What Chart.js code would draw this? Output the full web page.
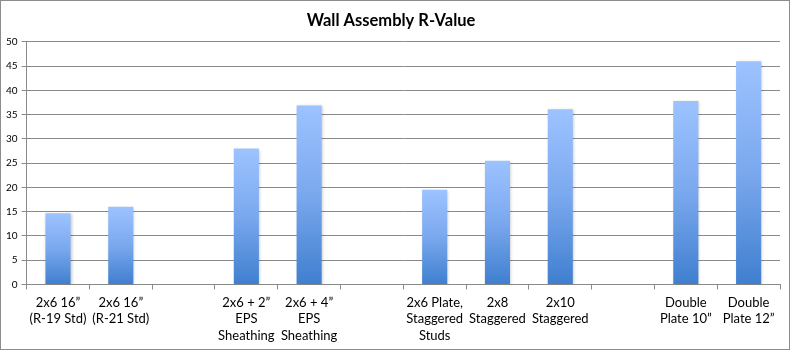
<!DOCTYPE html>
<html><head><meta charset="utf-8">
<script src="https://cdn.jsdelivr.net/npm/chart.js@4/dist/chart.umd.min.js"></script>
<style>
html,body{margin:0;padding:0;background:#fff;}
#wrap{width:790px;height:350px;box-sizing:border-box;border:1px solid #8c8c8c;position:relative;}
</style></head>
<body><div id="wrap"><canvas id="c"></canvas></div>
<script>
const categories = [
  ["2x6 16\u201D","(R-19 Std)"],
  ["2x6 16\u201D","(R-21 Std)"],
  "",
  ["2x6 + 2\u201D","EPS","Sheathing"],
  ["2x6 + 4\u201D","EPS","Sheathing"],
  "",
  ["2x6 Plate,","Staggered","Studs"],
  ["2x8","Staggered"],
  ["2x10","Staggered"],
  "",
  ["Double","Plate 10\u201D"],
  ["Double","Plate 12\u201D"]
];
const rValues = [14.7, 16.0, null, 28.0, 36.9, null, 19.5, 25.5, 36.1, null, 37.8, 46.0];
const yTicks = [0,5,10,15,20,25,30,35,40,45,50];

const shadowPlugin = {
  id:'shadow',
  beforeDatasetsDraw(chart){ const c=chart.ctx; c.save(); c.shadowColor='rgba(0,0,0,0.22)'; c.shadowBlur=3; c.shadowOffsetX=1; c.shadowOffsetY=1; },
  afterDatasetsDraw(chart){ chart.ctx.restore(); }
};

new Chart(document.getElementById('c'), {
  type:'bar',
  data:{ labels:categories, datasets:[{
    data:rValues,
    barPercentage:0.8, categoryPercentage:0.5,
    backgroundColor:function(ctx){
      const chart=ctx.chart; const y=chart.scales.y;
      if(!y || ctx.raw==null || !chart.chartArea) return '#6a9fe6';
      const top=y.getPixelForValue(ctx.raw), bot=y.getPixelForValue(0);
      const g=chart.ctx.createLinearGradient(0,top,0,bot);
      g.addColorStop(0,'#9dc3ff'); g.addColorStop(0.5,'#7aa8ee'); g.addColorStop(1,'#3f7fcf');
      return g;
    },
    borderWidth:0
  }]},
  options:{
    responsive:true, maintainAspectRatio:false, animation:false,
    devicePixelRatio:1,
    layout:{padding:{left:1,right:9,top:4,bottom:0}},
    plugins:{
      legend:{display:false}, tooltip:{enabled:false},
      title:{display:true,text:'Wall Assembly R-Value',color:'#000',font:{family:'Lato',size:16.5,weight:'bold'},padding:{top:6,bottom:11}}
    },
    scales:{
      x:{
        offset:true,
        grid:{offset:true,drawOnChartArea:false,drawTicks:true,tickLength:5,color:'#8a8a8a'},
        border:{color:'#8a8a8a',width:1},
        ticks:{color:'#000',font:{family:'Lato',size:13,lineHeight:1.27},maxRotation:0,autoSkip:false,padding:5}
      },
      y:{
        min:0,max:50,
        afterBuildTicks(axis){ axis.ticks = yTicks.map(v=>({value:v})); },
        grid:{color:'#8a8a8a',lineWidth:1,tickLength:5,drawTicks:true},
        border:{color:'#8a8a8a',width:1},
        ticks:{color:'#000',font:{family:'Lato',size:10},padding:4}
      }
    }
  },
  plugins:[shadowPlugin]
});
</script></body></html>
